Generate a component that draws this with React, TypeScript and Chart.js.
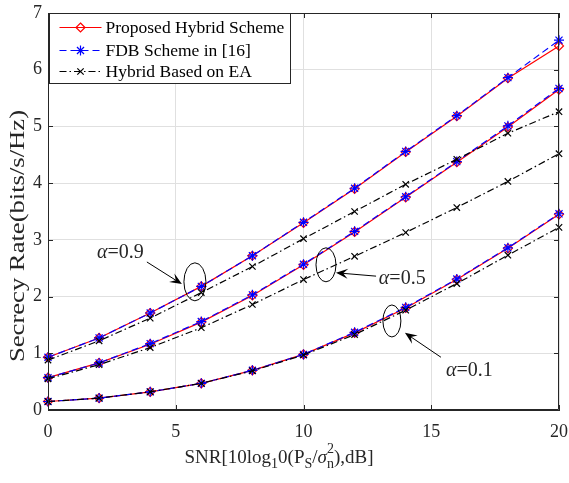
import React, { useEffect, useRef } from "react";
import { Chart, registerables } from "chart.js";

Chart.register(...registerables);

const snr = [0, 2, 4, 6, 8, 10, 12, 14, 16, 18, 20];

const proposed09 = [0.93, 1.27, 1.71, 2.18, 2.72, 3.3, 3.9, 4.55, 5.18, 5.85, 6.42];
const fdb09 = [0.93, 1.27, 1.71, 2.18, 2.72, 3.31, 3.91, 4.56, 5.19, 5.86, 6.52];
const ea09 = [0.88, 1.22, 1.62, 2.07, 2.53, 3.02, 3.5, 3.98, 4.42, 4.88, 5.26];

const proposed05 = [0.57, 0.83, 1.16, 1.55, 2.02, 2.56, 3.14, 3.75, 4.37, 4.99, 5.65];
const fdb05 = [0.57, 0.83, 1.17, 1.56, 2.03, 2.57, 3.15, 3.76, 4.38, 5.01, 5.67];
const ea05 = [0.55, 0.8, 1.1, 1.45, 1.86, 2.3, 2.71, 3.13, 3.57, 4.03, 4.52];

const proposed01 = [0.15, 0.21, 0.32, 0.47, 0.7, 0.98, 1.36, 1.8, 2.3, 2.85, 3.45];
const fdb01 = [0.15, 0.21, 0.32, 0.47, 0.7, 0.98, 1.37, 1.81, 2.31, 2.86, 3.46];
const ea01 = [0.15, 0.21, 0.32, 0.47, 0.69, 0.97, 1.33, 1.76, 2.23, 2.73, 3.22];

const seriesNames = ["Proposed Hybrid Scheme", "FDB Scheme in [16]", "Hybrid Based on EA"];
const alphaLabels = ["0.9", "0.5", "0.1"];

const xTicks = [0, 5, 10, 15, 20];
const yTicks = [0, 1, 2, 3, 4, 5, 6, 7];

// annotation anchors in data coordinates
const ellipseCenters = [
  [5.75, 2.26],
  [10.88, 2.56],
  [13.46, 1.57],
];
const arrowStarts = [
  [3.87, 2.61],
  [12.84, 2.36],
  [15.38, 0.93],
];
const arrowEnds = [
  [5.24, 2.22],
  [11.27, 2.42],
  [13.97, 1.36],
];
const labelAnchors = [
  [1.92, 2.77],
  [12.95, 2.31],
  [15.58, 0.69],
];

const FONT = "'Liberation Serif', 'Times New Roman', serif";
const RED = "#ff0000";
const BLUE = "#0000ff";
const BLACK = "#000000";
const AXIS = "#262626";

const styles = [
  { color: RED, dash: [] as number[], point: "rectRot", radius: 4.5, order: 3 },
  { color: BLUE, dash: [7, 4], point: "star", radius: 5, order: 2 },
  { color: BLACK, dash: [7, 3, 1.5, 3], point: "crossRot", radius: 4.5, order: 1 },
];

function makeDataset(label: string, ys: number[], k: number) {
  const s = styles[k];
  return {
    label,
    data: snr.map((x, i) => ({ x, y: ys[i] })),
    borderColor: s.color,
    backgroundColor: "rgba(0,0,0,0)",
    borderWidth: 1.2,
    borderDash: s.dash,
    pointStyle: s.point,
    pointRadius: s.radius,
    pointBorderColor: s.color,
    pointBackgroundColor: "rgba(0,0,0,0)",
    pointBorderWidth: 1.2,
    tension: 0,
    clip: false as any,
    order: s.order,
  };
}

function drawMarker(ctx: CanvasRenderingContext2D, style: string, r: number, x: number, y: number, color: string) {
  ctx.strokeStyle = color;
  ctx.lineWidth = 1.2;
  ctx.setLineDash([]);
  ctx.beginPath();
  if (style === "rectRot") {
    ctx.moveTo(x, y - r);
    ctx.lineTo(x + r, y);
    ctx.lineTo(x, y + r);
    ctx.lineTo(x - r, y);
    ctx.closePath();
  } else if (style === "star") {
    ctx.moveTo(x, y - r);
    ctx.lineTo(x, y + r);
    ctx.moveTo(x - r, y);
    ctx.lineTo(x + r, y);
    const d = r * Math.SQRT1_2;
    ctx.moveTo(x - d, y - d);
    ctx.lineTo(x + d, y + d);
    ctx.moveTo(x - d, y + d);
    ctx.lineTo(x + d, y - d);
  } else {
    const d = r * Math.SQRT1_2;
    ctx.moveTo(x - d, y - d);
    ctx.lineTo(x + d, y + d);
    ctx.moveTo(x - d, y + d);
    ctx.lineTo(x + d, y - d);
  }
  ctx.stroke();
}

function drawArrow(ctx: CanvasRenderingContext2D, x1: number, y1: number, x2: number, y2: number) {
  const ang = Math.atan2(y2 - y1, x2 - x1);
  const len = 12;
  const half = 5;
  ctx.beginPath();
  ctx.moveTo(x1, y1);
  ctx.lineTo(x2 - Math.cos(ang) * 6, y2 - Math.sin(ang) * 6);
  ctx.stroke();
  const bx = x2 - Math.cos(ang) * len;
  const by = y2 - Math.sin(ang) * len;
  const nx = -Math.sin(ang);
  const ny = Math.cos(ang);
  const mx = x2 - Math.cos(ang) * (len * 0.6);
  const my = y2 - Math.sin(ang) * (len * 0.6);
  ctx.beginPath();
  ctx.moveTo(x2, y2);
  ctx.lineTo(bx + nx * half, by + ny * half);
  ctx.lineTo(mx, my);
  ctx.lineTo(bx - nx * half, by - ny * half);
  ctx.closePath();
  ctx.fill();
}

const decorPlugin = {
  id: "decor",
  afterDraw(chart: any) {
    const ctx: CanvasRenderingContext2D = chart.ctx;
    const { left, right, top, bottom } = chart.chartArea;
    const xs = chart.scales.x;
    const ys = chart.scales.y;
    ctx.save();

    // box
    ctx.strokeStyle = AXIS;
    ctx.lineWidth = 1;
    ctx.setLineDash([]);
    ctx.beginPath();
    ctx.moveTo(left + 0.5, top + 0.5);
    ctx.lineTo(right - 0.5, top + 0.5);
    ctx.lineTo(right - 0.5, bottom - 0.5);
    ctx.lineTo(left + 0.5, bottom - 0.5);
    ctx.closePath();
    ctx.stroke();

    // inward ticks
    const tl = 5;
    ctx.beginPath();
    xTicks.forEach((t) => {
      const px = Math.round(xs.getPixelForValue(t)) + 0.5;
      ctx.moveTo(px, bottom);
      ctx.lineTo(px, bottom - tl);
      ctx.moveTo(px, top);
      ctx.lineTo(px, top + tl);
    });
    yTicks.forEach((t) => {
      const py = Math.round(ys.getPixelForValue(t)) + 0.5;
      ctx.moveTo(left, py);
      ctx.lineTo(left + tl, py);
      ctx.moveTo(right, py);
      ctx.lineTo(right - tl, py);
    });
    ctx.stroke();

    // legend
    const lx = left + 1.5;
    const ly = top + 0.5;
    const lw = 241;
    const lh = 70;
    ctx.fillStyle = "#ffffff";
    ctx.fillRect(lx, ly, lw, lh);
    ctx.strokeStyle = AXIS;
    ctx.lineWidth = 1;
    ctx.strokeRect(lx, ly, lw, lh);
    const rowY = [27, 50, 71];
    seriesNames.forEach((name, k) => {
      const s = styles[k];
      const y = rowY[k] + 0.5;
      ctx.strokeStyle = s.color;
      ctx.lineWidth = 1.2;
      ctx.setLineDash(s.dash);
      ctx.beginPath();
      ctx.moveTo(lx + 10, y);
      ctx.lineTo(lx + 52, y);
      ctx.stroke();
      drawMarker(ctx, s.point, s.radius, lx + 31, y, s.color);
      ctx.fillStyle = "#000";
      ctx.font = `17.5px ${FONT}`;
      ctx.textBaseline = "middle";
      ctx.textAlign = "left";
      ctx.fillText(name, lx + 56, y + 1);
    });

    // annotations
    ctx.strokeStyle = "#000";
    ctx.fillStyle = "#000";
    ctx.lineWidth = 1;
    ctx.setLineDash([]);
    const radii = [
      [11, 19],
      [10, 17],
      [9, 16],
    ];
    ellipseCenters.forEach((c, k) => {
      const cx = xs.getPixelForValue(c[0]);
      const cy = ys.getPixelForValue(c[1]);
      ctx.beginPath();
      ctx.ellipse(cx, cy, radii[k][0], radii[k][1], 0, 0, Math.PI * 2);
      ctx.stroke();
    });
    arrowStarts.forEach((a, k) => {
      const b = arrowEnds[k];
      drawArrow(
        ctx,
        xs.getPixelForValue(a[0]),
        ys.getPixelForValue(a[1]),
        xs.getPixelForValue(b[0]),
        ys.getPixelForValue(b[1])
      );
    });
    labelAnchors.forEach((p, k) => {
      let x = xs.getPixelForValue(p[0]);
      const y = ys.getPixelForValue(p[1]);
      ctx.textBaseline = "middle";
      ctx.textAlign = "left";
      ctx.fillStyle = "#262626";
      ctx.font = `italic 20px ${FONT}`;
      ctx.fillText("\u03b1", x, y);
      x += ctx.measureText("\u03b1").width;
      ctx.font = `20px ${FONT}`;
      ctx.fillText("=" + alphaLabels[k], x, y);
    });

    // y title (elongated along its length like the reference)
    ctx.fillStyle = "#262626";
    ctx.save();
    ctx.translate(18, 236);
    ctx.rotate(-Math.PI / 2);
    ctx.font = `21px ${FONT}`;
    const yt = "Secrecy Rate(bits/s/Hz)";
    const w = ctx.measureText(yt).width;
    ctx.scale(252 / w, 1);
    ctx.textAlign = "center";
    ctx.textBaseline = "middle";
    ctx.fillText(yt, 0, 0);
    ctx.restore();

    // x title with sub/superscripts
    const base = 463;
    const fs = 19;
    const sfs = 14;
    type Seg = { t: string; size: number; dy: number; italic?: boolean; noAdvance?: boolean };
    const segs: Seg[] = [
      { t: "SNR[10log", size: fs, dy: 0 },
      { t: "1", size: sfs, dy: 5 },
      { t: "0(P", size: fs, dy: 0 },
      { t: "S", size: sfs, dy: 5 },
      { t: "/", size: fs, dy: 0 },
      { t: "\u03c3", size: fs, dy: 0, italic: true },
      { t: "2", size: sfs, dy: -10, noAdvance: true },
      { t: "n", size: sfs, dy: 5 },
      { t: "),dB]", size: fs, dy: 0 },
    ];
    const fontOf = (s: Seg) => `${s.italic ? "italic " : ""}${s.size}px ${FONT}`;
    let total = 0;
    segs.forEach((s) => {
      ctx.font = fontOf(s);
      if (!s.noAdvance) total += ctx.measureText(s.t).width;
    });
    let cx = 279 - total / 2;
    ctx.textAlign = "left";
    ctx.textBaseline = "alphabetic";
    segs.forEach((s) => {
      ctx.font = fontOf(s);
      ctx.fillText(s.t, cx, base + s.dy);
      if (!s.noAdvance) cx += ctx.measureText(s.t).width;
    });

    ctx.restore();
  },
};

export default function App() {
  const ref = useRef<HTMLCanvasElement | null>(null);
  useEffect(() => {
    if (!ref.current) return;
    const datasets: any[] = [];
    const groups = [
      [proposed09, fdb09, ea09],
      [proposed05, fdb05, ea05],
      [proposed01, fdb01, ea01],
    ];
    groups.forEach((g, gi) => {
      g.forEach((ys, k) => datasets.push(makeDataset(`${seriesNames[k]} (α=${alphaLabels[gi]})`, ys, k)));
    });
    const chart = new Chart(ref.current, {
      type: "line",
      data: { datasets },
      plugins: [decorPlugin],
      options: {
        animation: false,
        responsive: false,
        devicePixelRatio: 1,
        layout: { autoPadding: false, padding: { top: 13, right: 10, left: 0, bottom: 0 } },
        plugins: { legend: { display: false }, tooltip: { enabled: false } },
        scales: {
          x: {
            type: "linear",
            min: 0,
            max: 20,
            afterFit: (s: any) => {
              s.height = 73;
              s.paddingLeft = 0;
              s.paddingRight = 0;
            },
            afterBuildTicks: (s: any) => {
              s.ticks = xTicks.map((v) => ({ value: v }));
            },
            ticks: {
              color: "#262626",
              font: { family: FONT, size: 18 },
              padding: 11,
              maxRotation: 0,
            },
            grid: { color: "#e0e0e0", lineWidth: 1, drawTicks: false },
            border: { display: true, color: AXIS },
          },
          y: {
            type: "linear",
            min: 0,
            max: 7,
            afterFit: (s: any) => {
              s.width = 48;
              s.paddingTop = 0;
              s.paddingBottom = 0;
            },
            afterBuildTicks: (s: any) => {
              s.ticks = yTicks.map((v) => ({ value: v }));
            },
            ticks: {
              color: "#262626",
              font: { family: FONT, size: 18 },
              padding: 6,
            },
            grid: { color: "#e0e0e0", lineWidth: 1, drawTicks: false },
            border: { display: true, color: AXIS },
          },
        },
      } as any,
    });
    return () => chart.destroy();
  }, []);
  return (
    <div style={{ position: "fixed", left: 0, top: 0, width: 569, height: 483, background: "#fff" }}>
      <canvas ref={ref} width={569} height={483} style={{ width: 569, height: 483 }} />
    </div>
  );
}
